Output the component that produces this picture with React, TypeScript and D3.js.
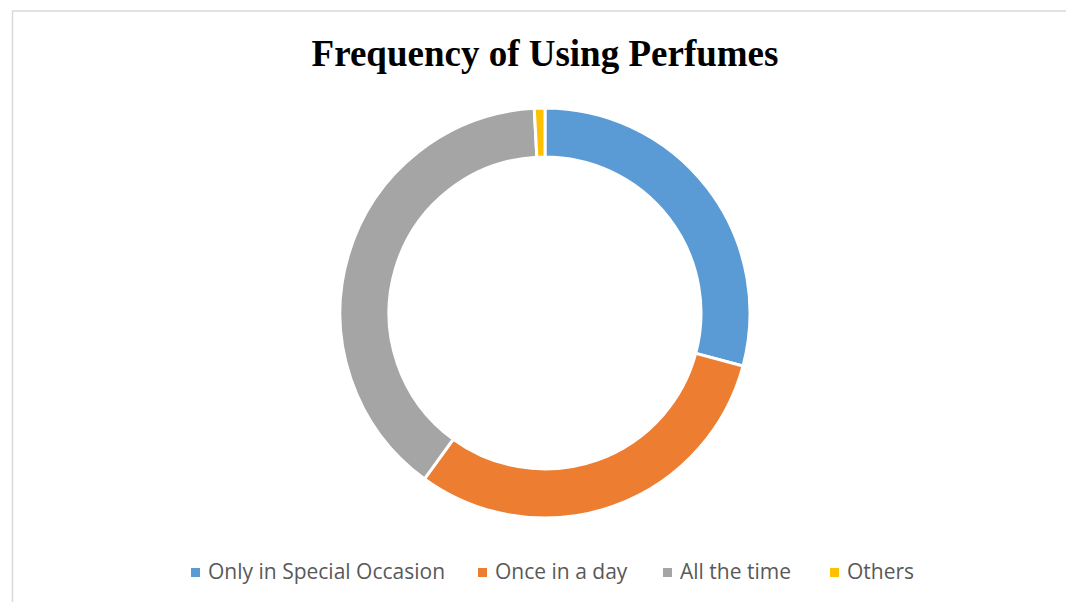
import React from "react";
import * as d3 from "d3";

const categories = ["Only in Special Occasion", "Once in a day", "All the time", "Others"];
const values = [35, 37, 47, 1];
const colors = ["#5b9bd5", "#ed7d31", "#a5a5a5", "#ffc000"];
const title = "Frequency of Using Perfumes";

const W = 1066;
const H = 602;
const cx = 545;
const cy = 313;
const outerR = 205;
const innerR = 156;
const legendX = [191, 478, 663, 830];
const legendY = 572;

export default function App() {
  const pie = d3.pie<number>().sort(null).value((d) => d)(values);
  const arc = d3.arc<d3.PieArcDatum<number>>().innerRadius(innerR).outerRadius(outerR);
  return (
    <svg width={W} height={H} style={{ position: "absolute", left: 0, top: 0 }}>
      <rect x={0} y={0} width={W} height={H} fill="#fff" />
      <rect x={12.5} y={11} width={W + 10} height={H + 10} fill="none" stroke="#d9d9d9" strokeWidth={1.5} />
      <text x={545} y={66} textAnchor="middle" fontFamily="'Liberation Serif', 'Times New Roman', serif" fontWeight="bold" fontSize={37} fill="#000">
        {title}
      </text>
      <g transform={`translate(${cx},${cy})`}>
        {pie.map((p, i) => (
          <path key={i} d={arc(p) || ""} fill={colors[i]} stroke="#fff" strokeWidth={3} />
        ))}
      </g>
      {categories.map((c, i) => (
        <g key={c}>
          <rect x={legendX[i]} y={legendY - 4} width={9} height={9} fill={colors[i]} />
          <text x={legendX[i] + 17} y={legendY + 6.5} fontFamily="'Open Sans', sans-serif" fontSize={21} fill="#595959">
            {c}
          </text>
        </g>
      ))}
    </svg>
  );
}
